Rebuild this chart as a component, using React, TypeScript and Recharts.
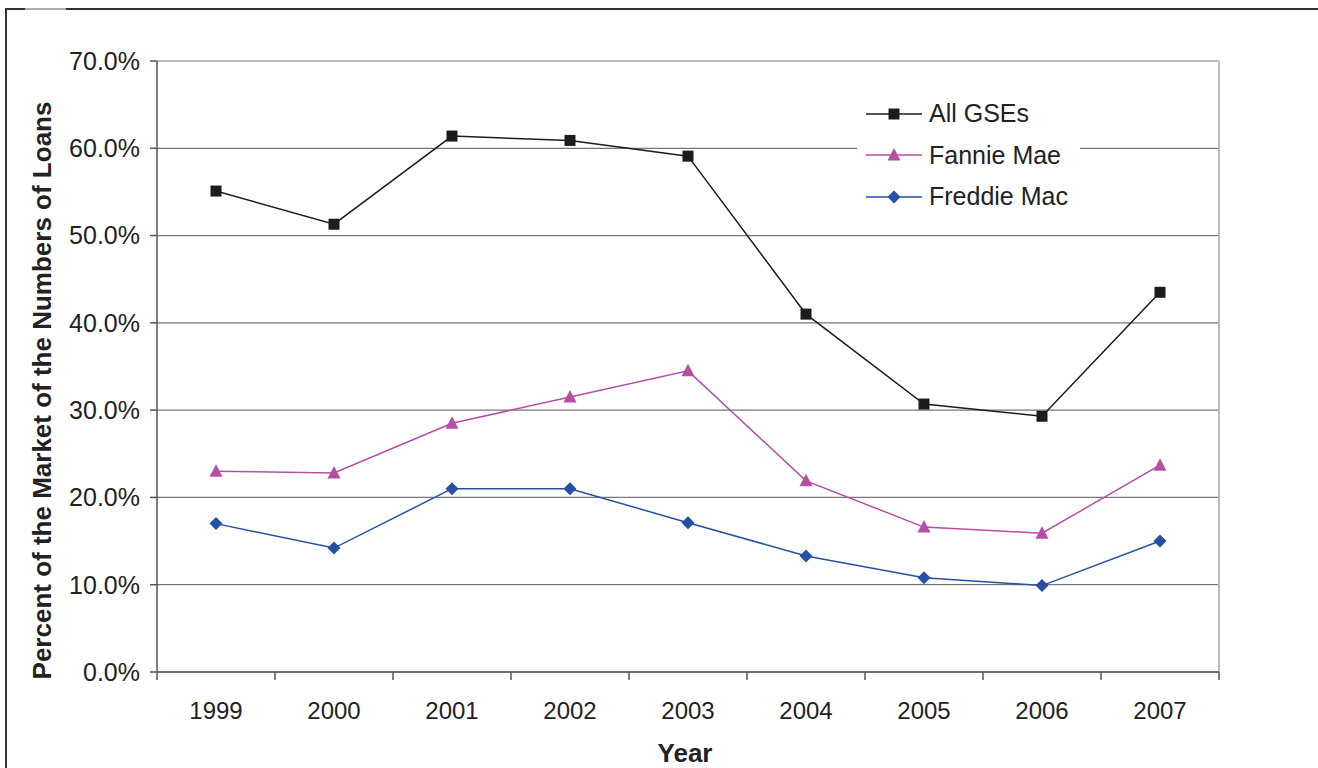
import { CartesianGrid, Legend, Line, LineChart, ReferenceLine, XAxis, YAxis } from 'recharts';

const years = ['1999', '2000', '2001', '2002', '2003', '2004', '2005', '2006', '2007'];
const allGses = [55.1, 51.3, 61.4, 60.9, 59.1, 41.0, 30.7, 29.3, 43.5];
const fannieMae = [23.0, 22.8, 28.5, 31.5, 34.5, 21.9, 16.6, 15.9, 23.7];
const freddieMac = [17.0, 14.2, 21.0, 21.0, 17.1, 13.3, 10.8, 9.9, 15.0];
const yTicks = [0, 10, 20, 30, 40, 50, 60, 70];

const data = years.map((year, i) => ({
  pos: i + 0.5,
  year,
  allGses: allGses[i],
  fannieMae: fannieMae[i],
  freddieMac: freddieMac[i],
}));

const WIDTH = 1318;
const HEIGHT = 768;
const PLOT_LEFT = 157;
const PLOT_RIGHT = 1219;
const PLOT_BOTTOM = 672;
const STEP = (PLOT_RIGHT - PLOT_LEFT) / years.length;
const FONT = '"Liberation Sans", Arial, sans-serif';

const series = [
  { key: 'allGses', name: 'All GSEs', color: '#1c1c1c', shape: 'square' },
  { key: 'fannieMae', name: 'Fannie Mae', color: '#b64ea3', shape: 'triangle' },
  { key: 'freddieMac', name: 'Freddie Mac', color: '#2450a6', shape: 'diamond' },
];

function Marker({ cx, cy, shape, color }: any) {
  if (cx == null || cy == null) return null;
  if (shape === 'square') {
    return <rect x={cx - 5.5} y={cy - 5.5} width={11} height={11} fill={color} />;
  }
  if (shape === 'triangle') {
    return <polygon points={`${cx},${cy - 7} ${cx + 6.5},${cy + 5.5} ${cx - 6.5},${cy + 5.5}`} fill={color} />;
  }
  return <polygon points={`${cx},${cy - 6.5} ${cx + 6.5},${cy} ${cx},${cy + 6.5} ${cx - 6.5},${cy}`} fill={color} />;
}

function YearTick({ x, y, payload }: any) {
  const idx = payload.value;
  if (idx >= years.length) return <g />;
  return (
    <text
      x={x + STEP / 2}
      y={y + 28}
      textAnchor="middle"
      dominantBaseline="central"
      fontSize={24}
      fontFamily={FONT}
      fill="#222"
    >
      {years[idx]}
    </text>
  );
}

function renderLegend() {
  return (
    <div style={{ background: '#fff', width: 223, padding: '6px 0', fontFamily: FONT }}>
      {series.map((s) => (
        <div key={s.key} style={{ display: 'flex', alignItems: 'center', height: 41.5 }}>
          <svg width={72} height={20} style={{ marginLeft: 9 }}>
            <line x1={0} y1={10} x2={56} y2={10} stroke={s.color} strokeWidth={1.5} />
            <Marker cx={28} cy={10} shape={s.shape} color={s.color} />
          </svg>
          <span style={{ fontSize: 25, color: '#222', marginLeft: -9 }}>{s.name}</span>
        </div>
      ))}
    </div>
  );
}

export default function App() {
  return (
    <div style={{ position: 'absolute', left: 0, top: 0, width: WIDTH, height: HEIGHT, background: '#fff' }}>
      <div
        style={{
          position: 'absolute',
          left: 5,
          top: 8,
          width: WIDTH - 5,
          height: HEIGHT - 8,
          borderTop: '2px solid #333',
          borderLeft: '2px solid #333',
        }}
      />
      <div style={{ position: 'absolute', left: 25, top: 8, width: 41, height: 2, background: '#aaa' }} />
      <LineChart
        width={WIDTH}
        height={HEIGHT}
        data={data}
        margin={{ top: 61, right: WIDTH - PLOT_RIGHT, bottom: HEIGHT - PLOT_BOTTOM - 60, left: 0 }}
      >
        <CartesianGrid horizontal vertical={false} stroke="#777" strokeWidth={1.2} />
        <ReferenceLine y={70} stroke="#bbb" strokeWidth={2} />
        <ReferenceLine x={years.length} stroke="#bbb" strokeWidth={2} />
        <XAxis
          dataKey="pos"
          type="number"
          domain={[0, years.length]}
          ticks={years.map((_, i) => i).concat([years.length])}
          interval={0}
          tick={<YearTick />}
          tickSize={8}
          stroke="#555"
          strokeWidth={1.5}
          height={60}
          label={({ viewBox }: any) => (
            <text
              x={viewBox.x + viewBox.width / 2 - 3}
              y={753}
              textAnchor="middle"
              dominantBaseline="central"
              fontSize={26}
              fontWeight="bold"
              fontFamily={FONT}
              fill="#222"
            >
              Year
            </text>
          )}
        />
        <YAxis
          type="number"
          domain={[0, 70]}
          ticks={yTicks}
          interval={0}
          width={PLOT_LEFT}
          tickFormatter={(v: number) => `${v.toFixed(1)}%`}
          tick={{ fontSize: 25, fontFamily: FONT, fill: '#222' }}
          tickSize={7}
          tickMargin={10}
          stroke="#555"
          strokeWidth={1.5}
          label={({ viewBox }: any) => (
            <text
              x={42}
              y={viewBox.y + viewBox.height / 2 + 24}
              transform={`rotate(-90, 42, ${viewBox.y + viewBox.height / 2 + 24})`}
              textAnchor="middle"
              dominantBaseline="central"
              fontSize={26}
              fontWeight="bold"
              fontFamily={FONT}
              fill="#222"
            >
              Percent of the Market of the Numbers of Loans
            </text>
          )}
        />
        <Legend
          layout="horizontal"
          verticalAlign="middle"
          content={renderLegend}
          wrapperStyle={{ left: 857, top: 87, width: 223 }}
        />
        {series.map((s) => (
          <Line
            key={s.key}
            type="linear"
            dataKey={s.key}
            name={s.name}
            stroke={s.color}
            strokeWidth={1.5}
            dot={(p: any) => <Marker key={`${s.key}-${p.index}`} cx={p.cx} cy={p.cy} shape={s.shape} color={s.color} />}
            activeDot={false}
            isAnimationActive={false}
          />
        ))}
      </LineChart>
    </div>
  );
}
